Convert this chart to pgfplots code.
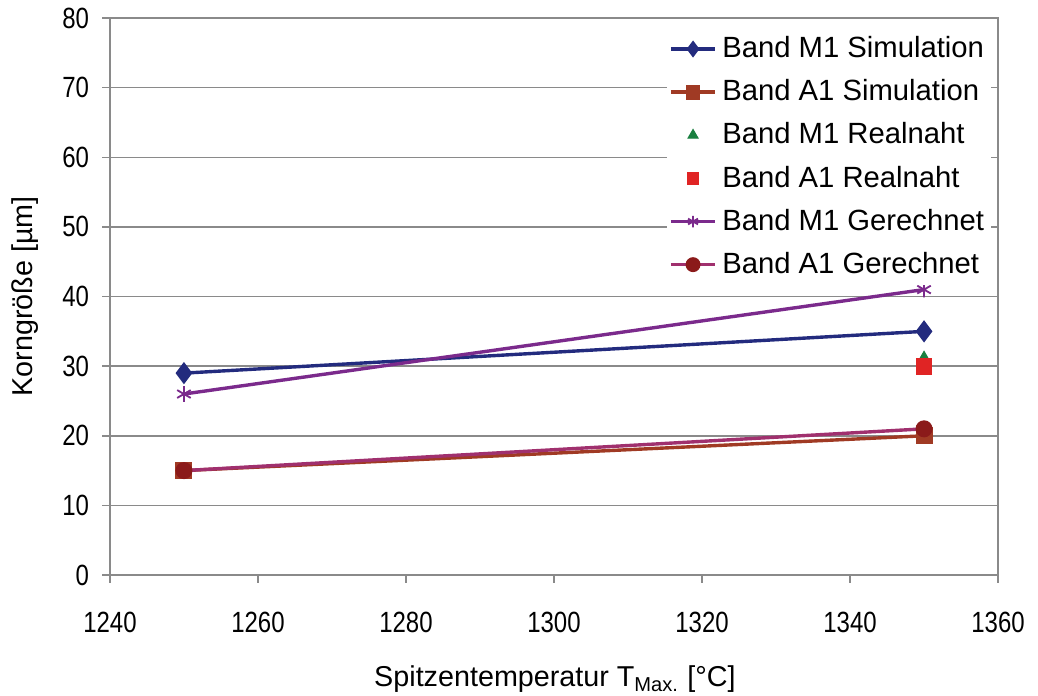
\documentclass[border=0pt]{standalone}
\usepackage{pgfplots}
\pgfplotsset{compat=1.18}
\usepackage{fontspec}
\setmainfont{Liberation Sans}
\definecolor{mnavy}{HTML}{232B7E}
\definecolor{abrown}{HTML}{A03A24}
\definecolor{mgreen}{HTML}{1A8040}
\definecolor{ared}{HTML}{E02424}
\definecolor{mpurple}{HTML}{7B2A8C}
\definecolor{amag}{HTML}{A0306E}
\definecolor{adark}{HTML}{8B1A1A}
\definecolor{gridgray}{HTML}{8A8A8A}
\begin{document}
\begin{tikzpicture}
\begin{axis}[
  scale only axis,
  width=340.1pt, height=213.3pt,
  xmin=1240, xmax=1360, ymin=0, ymax=80,
  xtick={1240,1260,...,1360},
  ytick={0,10,...,80},
  ymajorgrids,
  grid style={gridgray, line width=0.6pt},
  axis line style={gridgray, line width=0.8pt},
  tick style={gridgray, line width=0.6pt},
  tick align=outside,
  major tick length=3pt,
  xtick pos=bottom, ytick pos=left,
  /pgf/number format/assume math mode=true,
  ticklabel style={font=\fontsize{11.2}{13}\selectfont, text=black},
  xticklabel={\scalebox{0.82}[1]{\pgfmathprintnumber[1000 sep={}]{\tick}}},
  yticklabel={\scalebox{0.82}[1]{\pgfmathprintnumber{\tick}}},
  xticklabel style={yshift=-7.5pt},
  yticklabel style={xshift=-1.5pt},
  label style={font=\fontsize{11}{13}\selectfont},
  xlabel={Spitzentemperatur T\textsubscript{Max.} [°C]},
  ylabel={Korngröße [µm]},
  xlabel style={at={(axis description cs:0.501,0)}, anchor=center, yshift=-40pt},
  ylabel style={at={(axis description cs:-0.0956,0.5)}, anchor=center},
  legend cell align=left,
  legend style={at={(rel axis cs:0.993,0.981)}, anchor=north east, draw=none, fill=white,
    font=\fontsize{11.2}{13}\selectfont, row sep=2.9pt, inner sep=0.8pt},
  legend image post style={mark size=2.2pt},
]
\addplot[mnavy, line width=1.3pt, mark=diamond*, mark size=3.2pt, mark options={fill=mnavy}]
  coordinates {(1250,29) (1350,35)};
\addlegendentry{Band M1 Simulation}
\addplot[abrown, line width=1.3pt, mark=square*, mark size=2.6pt, mark options={fill=abrown}]
  coordinates {(1250,15) (1350,20)};
\addlegendentry{Band A1 Simulation}
\addplot[only marks, mgreen, mark=triangle*, mark size=3pt, mark options={fill=mgreen}]
  coordinates {(1350,31)};
\addlegendentry{Band M1 Realnaht}
\addplot[only marks, ared, mark=square*, mark size=3pt, mark options={fill=ared}]
  coordinates {(1350,30)};
\addlegendentry{Band A1 Realnaht}
\addplot[mpurple, line width=1.3pt, mark=asterisk, mark size=3pt, mark options={line width=0.7pt}]
  coordinates {(1250,26) (1350,41)};
\addlegendentry{Band M1 Gerechnet}
\addplot[amag, line width=1.3pt, mark=*, mark size=2.6pt, mark options={fill=adark, draw=adark}]
  coordinates {(1250,15) (1350,21)};
\addlegendentry{Band A1 Gerechnet}
\coordinate (O) at (rel axis cs:0,0);
\end{axis}
\pgfresetboundingbox
\path[use as bounding box] ([shift={(-42.1pt,-46pt)}]O) rectangle ([shift={(355.4pt,220.2pt)}]O);
\end{tikzpicture}
\end{document}
